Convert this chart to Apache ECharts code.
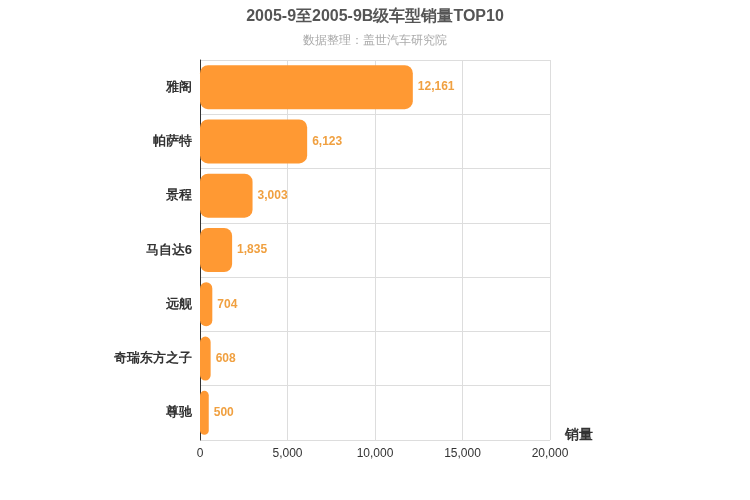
<!DOCTYPE html>
<html><head><meta charset="utf-8">
<script src="https://cdn.jsdelivr.net/npm/echarts@6/dist/echarts.min.js"></script>
</head><body style="margin:0">
<div id="main" style="width:750px;height:500px"></div>
<script>
var models = ['雅阁', '帕萨特', '景程', '马自达6', '远舰', '奇瑞东方之子', '尊驰'];
var sales = [12161, 6123, 3003, 1835, 704, 608, 500];
var xTicks = {min: 0, max: 20000, interval: 5000};

var myCharts = echarts.init(document.getElementById('main'));
var option = {
    title: {
        text: '2005-9至2005-9B级车型销量TOP10',
        subtext: '数据整理：盖世汽车研究院',
        left: 'center',
        top: 4,
        textStyle: {fontSize: 16, fontWeight: 'bold', color: '#555'},
        subtextStyle: {fontSize: 12, color: '#aaa'},
        itemGap: 10
    },
    grid: {left: 200, right: 200, top: 60, bottom: 60},
    xAxis: {
        type: 'value',
        min: xTicks.min, max: xTicks.max, interval: xTicks.interval,
        name: '销量',
        nameLocation: 'end',
        nameGap: 15,
        nameTextStyle: {fontSize: 14, fontWeight: 'bold', color: '#333', verticalAlign: 'top', padding: [-12, 0, 0, 0]},
        axisLine: {show: false},
        axisTick: {show: false},
        axisLabel: {color: '#333', formatter: function (v) { return v.toLocaleString('en-US'); }},
        splitLine: {lineStyle: {color: '#ddd'}}
    },
    yAxis: {
        type: 'category',
        inverse: true,
        data: models,
        axisLine: {lineStyle: {color: '#333'}},
        axisTick: {show: false},
        axisLabel: {color: '#333', fontSize: 13, fontWeight: 'bold'},
        splitLine: {show: true, lineStyle: {color: '#ddd'}}
    },
    series: [{
        type: 'bar',
        data: sales,
        barWidth: 44,
        itemStyle: {color: '#ff9933', borderRadius: 8},
        label: {
            show: true, position: 'right', color: '#f0a040', fontWeight: 'bold', fontSize: 12,
            formatter: function (p) { return p.value.toLocaleString('en-US'); }
        }
    }]
};
myCharts.setOption(option);
</script>
</body></html>
